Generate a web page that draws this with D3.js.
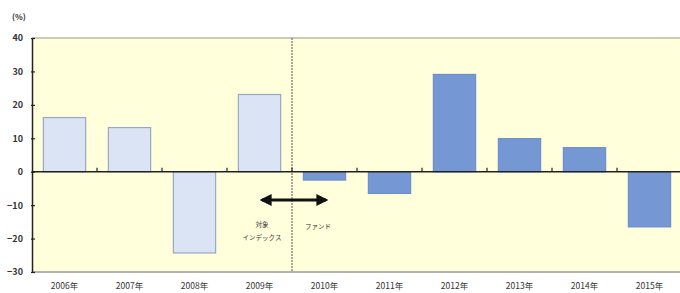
<!DOCTYPE html>
<html>
<head>
<meta charset="utf-8">
<script src="https://cdn.jsdelivr.net/npm/d3@7"></script>
<style>
  body { margin: 0; background: #fff; }
  svg text { font-family: "Noto Sans CJK JP", "DejaVu Sans", sans-serif; fill: #333; }
</style>
</head>
<body>
<div id="chart"></div>
<script>
// data
var years = ["2006年", "2007年", "2008年", "2009年", "2010年", "2011年", "2012年", "2013年", "2014年", "2015年"];
var returns = [16.2, 13.2, -24.3, 23.1, -2.5, -6.5, 29.1, 9.9, 7.2, -16.5];
var kinds = ["index", "index", "index", "index", "fund", "fund", "fund", "fund", "fund", "fund"];
var yTicks = [40, 30, 20, 10, 0, -10, -20, -30];

var width = 680, height = 293;
var plotLeft = 32, plotRight = 682, plotTop = 38, plotBottom = 272;

var svg = d3.select("#chart").append("svg")
    .attr("width", width)
    .attr("height", height);

var x = d3.scaleBand().domain(years).range([plotLeft, plotRight]).paddingInner(0.35).paddingOuter(0.175);
var y = d3.scaleLinear().domain([-30, 40]).range([plotBottom, plotTop]);

// plot background
svg.append("rect")
    .attr("x", plotLeft).attr("y", plotTop)
    .attr("width", plotRight - plotLeft).attr("height", plotBottom - plotTop)
    .attr("fill", "#ffffdc");

// top / bottom borders
svg.append("line").attr("x1", plotLeft).attr("x2", width).attr("y1", plotTop).attr("y2", plotTop)
    .attr("stroke", "#b8b8a8").attr("stroke-width", 1.5);
svg.append("line").attr("x1", plotLeft).attr("x2", width).attr("y1", plotBottom).attr("y2", plotBottom)
    .attr("stroke", "#9a9a90").attr("stroke-width", 1.5);

// boundary between index and fund periods
var split = x("2010年") - x.step() * x.paddingInner() / 2;
svg.append("line")
    .attr("x1", split).attr("x2", split)
    .attr("y1", plotTop).attr("y2", plotBottom)
    .attr("stroke", "#555").attr("stroke-width", 1)
    .attr("stroke-dasharray", "2,1");

// bars
svg.selectAll("rect.bar")
    .data(years)
    .enter().append("rect")
    .attr("class", "bar")
    .attr("x", function(d) { return x(d); })
    .attr("width", x.bandwidth())
    .attr("y", function(d, i) { return y(Math.max(0, returns[i])); })
    .attr("height", function(d, i) { return Math.abs(y(returns[i]) - y(0)); })
    .attr("fill", function(d, i) { return kinds[i] == "index" ? "#dae4f4" : "#7598d4"; })
    .attr("stroke", function(d, i) { return kinds[i] == "index" ? "#98a8c4" : "#6e8fc8"; })
    .attr("stroke-width", 1.2);

// zero line with small ticks between categories
svg.append("line")
    .attr("x1", plotLeft).attr("x2", width)
    .attr("y1", y(0)).attr("y2", y(0))
    .attr("stroke", "#222").attr("stroke-width", 1.5);
svg.selectAll("line.ztick")
    .data(years.slice(1))
    .enter().append("line")
    .attr("class", "ztick")
    .attr("x1", function(d) { return x(d) - x.step() * x.paddingInner() / 2; })
    .attr("x2", function(d) { return x(d) - x.step() * x.paddingInner() / 2; })
    .attr("y1", y(0) - 4).attr("y2", y(0))
    .attr("stroke", "#222").attr("stroke-width", 1.2);

// y axis
var yAxis = d3.axisLeft(y).tickValues(yTicks).tickSize(0).tickPadding(9);
var gy = svg.append("g")
    .attr("transform", "translate(" + plotLeft + ",0)")
    .call(yAxis);
gy.select(".domain").attr("stroke", "#222").attr("stroke-width", 1.5);
gy.selectAll("text").attr("font-size", 9).attr("font-weight", "bold").attr("fill", "#444");
gy.selectAll(".tick").append("line")
    .attr("x1", -1).attr("x2", 3)
    .attr("stroke", "#222").attr("stroke-width", 1.2);

svg.append("text")
    .attr("x", 12).attr("y", 20)
    .attr("font-size", 8).attr("font-weight", "bold")
    .text("(%)");

// x axis labels
var xAxis = d3.axisBottom(x).tickSize(0).tickPadding(11);
var gx = svg.append("g")
    .attr("transform", "translate(0," + plotBottom + ")")
    .call(xAxis);
gx.select(".domain").remove();
gx.selectAll("text").attr("font-size", 8.5).attr("fill", "#444");

// double arrow and period notes
var arrowY = 200;
var defs = svg.append("defs");
defs.append("marker")
    .attr("id", "head")
    .attr("viewBox", "0 0 10 10")
    .attr("refX", 8).attr("refY", 5)
    .attr("markerWidth", 4).attr("markerHeight", 4)
    .attr("orient", "auto-start-reverse")
    .append("path")
    .attr("d", "M0,0 L10,5 L0,10 Z")
    .attr("fill", "#111");
svg.append("line")
    .attr("x1", split - 30).attr("x2", split + 34)
    .attr("y1", arrowY).attr("y2", arrowY)
    .attr("stroke", "#111").attr("stroke-width", 3)
    .attr("marker-start", "url(#head)")
    .attr("marker-end", "url(#head)");

svg.append("text")
    .attr("x", split - 30).attr("y", 227)
    .attr("text-anchor", "middle").attr("font-size", 6.5)
    .text("対象");
svg.append("text")
    .attr("x", split - 30).attr("y", 240)
    .attr("text-anchor", "middle").attr("font-size", 6.5)
    .text("インデックス");
svg.append("text")
    .attr("x", split + 26).attr("y", 229)
    .attr("text-anchor", "middle").attr("font-size", 6.5)
    .text("ファンド");
</script>
</body>
</html>
